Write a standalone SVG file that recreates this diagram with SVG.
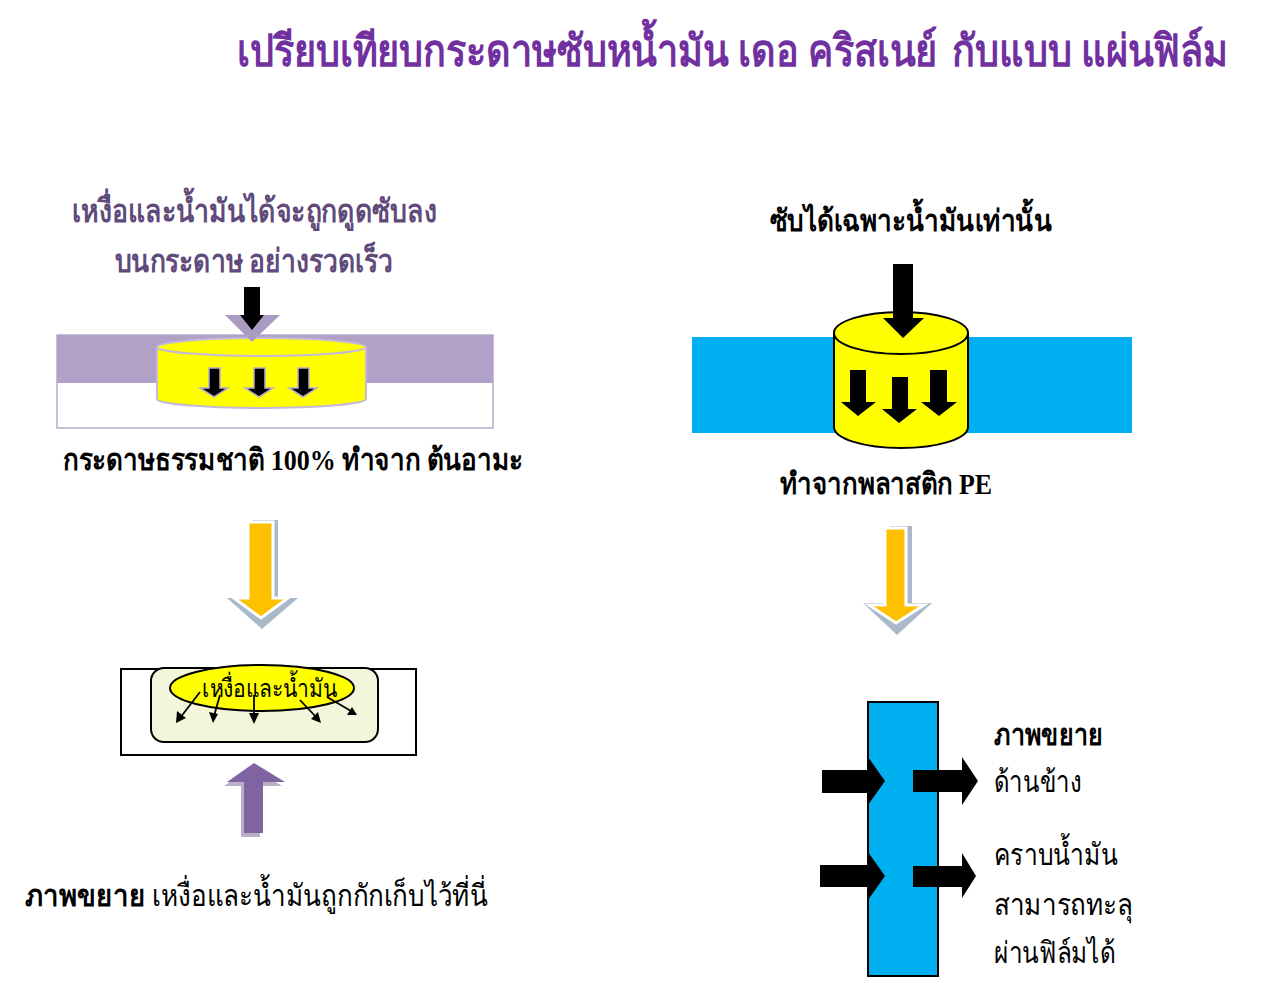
<svg xmlns="http://www.w3.org/2000/svg" width="1263" height="1006" viewBox="0 0 1263 1006">
<style>
text{font-family:"Liberation Serif","Noto Sans",serif;}
.b{font-weight:bold;}
.title{font-size:44px;fill:#7030A0;font-weight:bold;}
.pl{font-size:32px;fill:#604A7B;font-weight:bold;}
.bk{font-size:30px;fill:#000;}
.blk{fill:#000;}
</style>
<rect width="1263" height="1006" fill="#fff"/>
<g id="title">
<text class="title" transform="translate(237,66) scale(0.87,1)" x="0" y="0" textLength="805" lengthAdjust="spacingAndGlyphs">เปรียบเทียบกระดาษซับหน้ำมัน เดอ คริสเนย์</text>
<text class="title" transform="translate(952,66) scale(0.87,1)" x="0" y="0" textLength="317" lengthAdjust="spacingAndGlyphs">กับแบบ แผ่นฟิล์ม</text>
</g>
<g id="paper-label">
<text class="pl" x="72" y="222" textLength="365" lengthAdjust="spacingAndGlyphs">เหงื่อและน้ำมันได้จะถูกดูดซับลง</text>
<text class="pl" x="115" y="272" textLength="278" lengthAdjust="spacingAndGlyphs">บนกระดาษ อย่างรวดเร็ว</text>
</g>
<g id="paper-cylinder">
<rect x="57" y="335" width="436" height="93" fill="#fff" stroke="#B8ABCB" stroke-width="1.5"/>
<rect x="57" y="335" width="436" height="48" fill="#B1A0C7"/>
<path d="M157,347 L157,399 A104.5,9 0 0 0 366,399 L366,347" fill="#FFFF00" stroke="#C6B8D8" stroke-width="2"/>
<ellipse cx="261.5" cy="347" rx="104.5" ry="9" fill="#FFFF00" stroke="#C6B8D8" stroke-width="2"/>
</g>
<g id="paper-caption">
<text class="bk b" x="63" y="470" textLength="460" lengthAdjust="spacingAndGlyphs">กระดาษธรรมชาติ 100% ทำจาก ต้นอามะ</text>
</g>
<g id="paper-zoom">
<rect x="121" y="669" width="295" height="86" fill="#fff" stroke="#000" stroke-width="2"/>
<rect x="151" y="668" width="227" height="74" rx="13" fill="#F3F6DA" stroke="#000" stroke-width="2"/>
<ellipse cx="262" cy="688" rx="92" ry="23" fill="#FFFF00" stroke="#000" stroke-width="2"/>
<text x="202" y="697" font-size="25" textLength="135" lengthAdjust="spacingAndGlyphs">เหงื่อและน้ำมัน</text>
</g>
<g id="paper-zoom-caption">
<text class="bk b" x="25" y="906" textLength="120" lengthAdjust="spacingAndGlyphs">ภาพขยาย</text>
<text class="bk" x="152" y="906" textLength="336" lengthAdjust="spacingAndGlyphs">เหงื่อและน้ำมันถูกกักเก็บไว้ที่นี่</text>
</g>
<g id="film-label">
<text class="bk b" x="770" y="231" textLength="282" lengthAdjust="spacingAndGlyphs">ซับได้เฉพาะน้ำมันเท่านั้น</text>
</g>
<g id="film-cylinder">
<rect x="692" y="337" width="440" height="96" fill="#00B0F0"/>
<path d="M834,333 L834,427 A67,21 0 0 0 968,427 L968,333" fill="#FFFF00" stroke="#000" stroke-width="2"/>
<ellipse cx="901" cy="333" rx="67" ry="21" fill="#FFFF00" stroke="#000" stroke-width="2"/>
</g>
<g id="film-caption">
<text class="bk b" x="780" y="494" textLength="212" lengthAdjust="spacingAndGlyphs">ทำจากพลาสติก PE</text>
</g>
<g id="film-zoom">
<rect x="868" y="702" width="70" height="274" fill="#00B0F0" stroke="#000" stroke-width="2"/>
</g>
<g id="film-zoom-text">
<text class="bk b" x="994" y="745" textLength="109" lengthAdjust="spacingAndGlyphs">ภาพขยาย</text>
<text class="bk" x="994" y="792" textLength="88" lengthAdjust="spacingAndGlyphs">ด้านข้าง</text>
<text class="bk" x="994" y="865" textLength="124" lengthAdjust="spacingAndGlyphs">คราบน้ำมัน</text>
<text class="bk" x="994" y="915" textLength="139" lengthAdjust="spacingAndGlyphs">สามารถทะลุ</text>
<text class="bk" x="994" y="963" textLength="121" lengthAdjust="spacingAndGlyphs">ผ่านฟิล์มได้</text>
</g>
<g id="connectors">
<polygon points="246,300 258,300 258,315 280,315 252,342 225,315 246,315" fill="#A99BC1"/>
<polygon points="244,287 260,287 260,315 264,315 252,330 240,315 244,315" class="blk"/>
<g fill="#000" stroke="#B7AACB" stroke-width="1.5">
<polygon points="209,368 220,368 220,388 228,388 214,397 200,388 209,388"/>
<polygon points="254,368 265,368 265,388 273,388 259,397 245,388 254,388"/>
<polygon points="298,368 309,368 309,388 317,388 303,397 289,388 298,388"/>
</g>
<polygon points="252,520 278,520 278,598 298,598 262,629 227,598 252,598" fill="#A9B9C9"/>
<polygon points="248,522 273,522 273,598 288,598 261,618 234,598 248,598" fill="#FFC000" stroke="#fff" stroke-width="3"/>
<g stroke="#000" stroke-width="1.8" fill="none">
<line x1="200" y1="692" x2="180" y2="718"/>
<line x1="220" y1="695" x2="214" y2="716"/>
<line x1="254" y1="695" x2="254" y2="716"/>
<line x1="300" y1="700" x2="316" y2="717"/>
<line x1="327" y1="697" x2="351" y2="711"/>
</g>
<g fill="#000">
<polygon points="176,723 177,711 186,718"/>
<polygon points="213,723 209,712 218,714"/>
<polygon points="254,724 249,713 259,713"/>
<polygon points="321,723 311,719 318,712"/>
<polygon points="357,715 347,715 352,707"/>
</g>
<polygon points="241,786 260,786 260,837 241,837" fill="#B8B0C6"/>
<polygon points="224,786 282,786 251,767" fill="#B8B0C6"/>
<polygon points="244,782 263,782 263,833 244,833" fill="#8064A2"/>
<polygon points="227,782 285,782 254,763" fill="#8064A2"/>
<polygon points="893,264 913,264 913,318 924,318 903,338 883,318 893,318" class="blk"/>
<polygon points="850,370 866,370 866,402 876,402 858,416 841,402 850,402" class="blk"/>
<polygon points="892,377 908,377 908,409 917,409 899,423 882,409 892,409" class="blk"/>
<polygon points="930,370 947,370 947,402 957,402 939,416 921,402 930,402" class="blk"/>
<polygon points="890,526 912,526 912,603 932,603 897,635 863,603 890,603" fill="#A9B9C9"/>
<polygon points="885,528 906,528 906,605 924,605 896,623 869,605 885,605" fill="#FFC000" stroke="#fff" stroke-width="3"/>
<polygon points="822,770 868,770 868,757 885,781 868,805 868,793 822,793" class="blk"/>
<polygon points="913,770 962,770 962,757 978,781 962,805 962,792 913,792" class="blk"/>
<polygon points="820,865 868,865 868,852 885,876 868,900 868,887 820,887" class="blk"/>
<polygon points="913,866 962,866 962,853 976,876 962,898 962,887 913,887" class="blk"/>
</g>
</svg>
